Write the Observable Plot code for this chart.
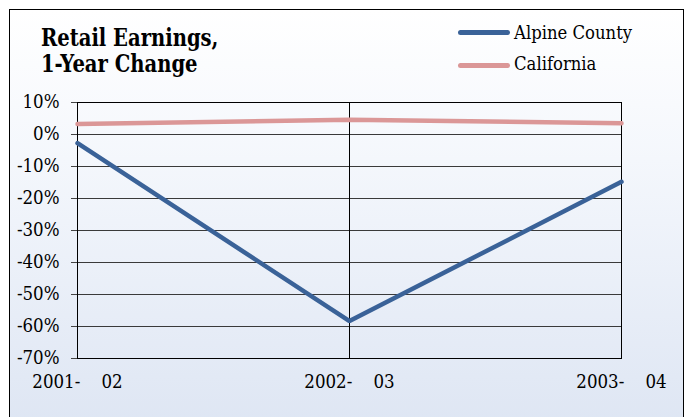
<!DOCTYPE html>
<html><head><meta charset="utf-8">
<script src="https://cdn.jsdelivr.net/npm/d3@7"></script>
<script src="https://cdn.jsdelivr.net/npm/@observablehq/plot@0.6"></script>
<style>
html,body{margin:0;padding:0;background:#fff;}
#wrap{position:relative;width:691px;height:417px;overflow:hidden;font-family:"DejaVu Serif",serif;font-stretch:condensed;color:#000;}
#frame{position:absolute;left:9px;top:9px;width:675px;height:430px;border:1px solid #000;box-sizing:border-box;background:linear-gradient(to bottom,#ffffff 0%,#f4f7fc 35%,#dde5f3 100%);}
#chart{position:absolute;left:0;top:0;}
#chart svg, #chart svg text{font-stretch:condensed;}
#title{position:absolute;left:41px;top:24.7px;font-weight:bold;font-size:25px;line-height:26.6px;white-space:nowrap;transform:scale(0.87,1);transform-origin:left top;}
.sw{position:absolute;left:458px;width:52px;height:4.5px;border-radius:3px;}
.lt{position:absolute;left:514px;font-size:18.3px;line-height:20px;white-space:nowrap;}
</style>
</head><body>
<div id="wrap">
  <div id="frame"></div>
  <div id="chart"></div>
  <div id="title">Retail Earnings,<br>1-Year Change</div>
  <div id="legend"></div>
</div>
<script>
const categories = ["2001-02", "2002-03", "2003-04"];
const seriesNames = ["Alpine County", "California"];
const alpine = [-2.7, -58.3, -14.8];
const california = [3.3, 4.6, 3.5];
const yTicks = [10, 0, -10, -20, -30, -40, -50, -60, -70];
const colors = ["#3A6298", "#DB9797"];

const rows = [];
categories.forEach((c, i) => {
  rows.push({cat: c, value: alpine[i], series: seriesNames[0]});
});
categories.forEach((c, i) => {
  rows.push({cat: c, value: california[i], series: seriesNames[1]});
});

const chart = Plot.plot({
  width: 691,
  height: 417,
  marginTop: 102,
  marginBottom: 59,
  marginLeft: 77,
  marginRight: 70,
  style: {background: "transparent", fontFamily: "'DejaVu Serif', serif", fontSize: "18.5px", color: "#000", overflow: "visible"},
  x: {type: "point", domain: categories, padding: 0, label: null},
  y: {domain: [-70, 10], label: null},
  color: {domain: seriesNames, range: colors},
  marks: [
    Plot.gridY(yTicks, {stroke: "#3a3a3a", strokeOpacity: 1}),
    Plot.ruleX([categories[1]], {stroke: "#000"}),
    Plot.frame({stroke: "#000"}),
    Plot.axisY(yTicks, {tickSize: 6, tickPadding: 12, stroke: "#444", tickFormat: d => `${d}%`, label: null}),
    Plot.axisX(categories, {tickSize: 0, tickPadding: 16, tickFormat: d => d.replace("-", "-\u00a0\u00a0\u00a0\u00a0"), label: null}),
    Plot.line(rows, {x: "cat", y: "value", z: "series", stroke: "series", strokeWidth: 4.5, strokeLinejoin: "miter", strokeLinecap: "round"})
  ]
});
document.getElementById("chart").appendChild(chart);

const legend = document.getElementById("legend");
const swY = [30, 63];
const txtTop = [23.4, 54.4];
seriesNames.forEach((name, i) => {
  const sw = document.createElement("div");
  sw.className = "sw";
  sw.style.top = swY[i] + "px";
  sw.style.background = colors[i];
  legend.appendChild(sw);
  const t = document.createElement("div");
  t.className = "lt";
  t.style.top = txtTop[i] + "px";
  t.textContent = name;
  legend.appendChild(t);
});
</script>
</body></html>
